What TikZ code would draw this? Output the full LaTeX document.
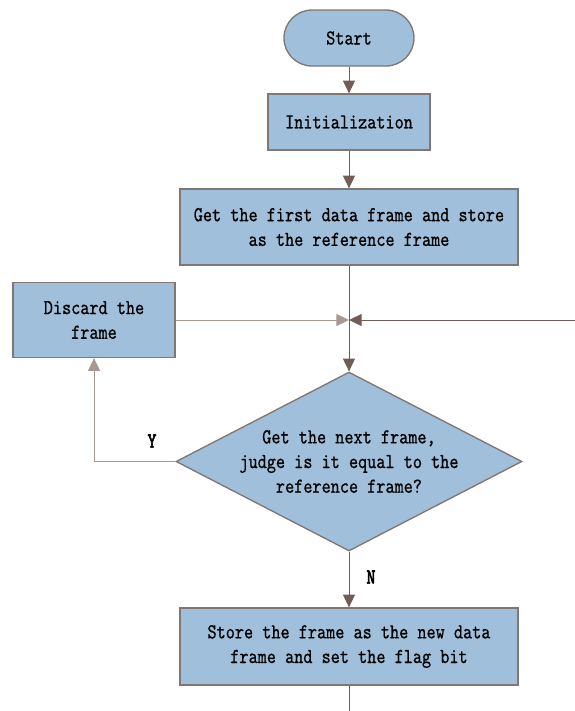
\documentclass[tikz,border=0pt]{standalone}
\usepackage{fontspec}
\setmonofont{lmmono10-regular.otf}[FakeStretch=0.815,FakeBold=0.6]
\newfontfamily\tagfont{lmmono10-regular.otf}[FakeStretch=0.815,FakeBold=2.5]
\usepackage{tikz}
\usetikzlibrary{arrows.meta,shapes.geometric}

\definecolor{boxfill}{RGB}{160,191,218}
\definecolor{boxline}{RGB}{128,118,115}
\definecolor{linedark}{RGB}{112,94,86}
\definecolor{linelight}{RGB}{168,152,148}

\begin{document}
\begin{tikzpicture}[x=0.75pt,y=-0.75pt,>={Triangle[length=9.5pt,width=9pt]},
  line width=0.75pt,font=\ttfamily\fontsize{16}{18.5}\selectfont,
  block/.style={rectangle,fill=boxfill,draw=boxline,line width=1pt,align=center,inner sep=0pt},
  terminal/.style={block,rounded corners=21pt,minimum width=97.5pt,minimum height=42pt},
  decision/.style={diamond,fill=boxfill,draw=boxline,line width=1pt,align=center,
    inner sep=0pt,aspect=1.93,minimum width=259.5pt,minimum height=134.25pt},
  tag/.style={font=\tagfont\fontsize{16}{18.5}\selectfont}]
\useasboundingbox (0,0) rectangle (575,711);

\node[terminal](start) at (349,38) {Start};
\node[block,minimum width=121.5pt,minimum height=42pt](init) at (349,122) {Initialization};
\node[block,minimum width=253.5pt,minimum height=57pt](first) at (349,227)
  {Get the first data frame and store\\as the reference frame};
\node[block,minimum width=121.5pt,minimum height=56.25pt](discard) at (94,320)
  {Discard the\\frame};
\node[decision](judge) at (349,461.5)
  {Get the next frame,\\judge is it equal to the\\reference frame?};
\node[block,minimum width=253.5pt,minimum height=57.75pt](store) at (349,646.5)
  {Store the frame as the new data\\frame and set the flag bit};
\node[tag](yes) at (152,441) {Y};
\node[tag](no) at (371,577) {N};

\coordinate (join) at (349,320);
\coordinate (loop) at (575,320);
\coordinate (tail) at (349,711);

\path[->,color=linedark]
(start) edge (init)
(init) edge (first)
(join) edge (judge)
(judge) edge (store);
\draw[linedark] (first) -- (join);
\draw[->,linedark] (loop) -- (join);
\draw[->,linelight] (discard.east) -- (join);
\draw[->,linelight] (judge.west) -| (discard);
\draw[linedark] (store) -- (tail);
\end{tikzpicture}
\end{document}
